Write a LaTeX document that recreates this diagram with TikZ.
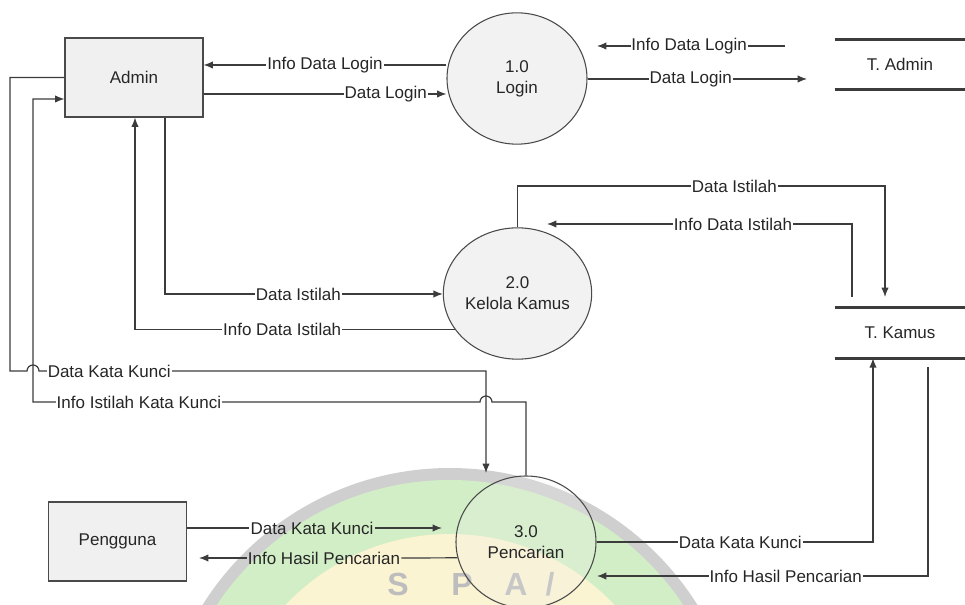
\documentclass[tikz,border=0pt]{standalone}
\usepackage{fontspec}
\setmainfont{Liberation Sans}
\usetikzlibrary{shapes.geometric,arrows.meta,calc}

\definecolor{linecol}{HTML}{3C3C3C}
\definecolor{txtcol}{HTML}{262626}
\definecolor{boxfill}{HTML}{F0F0F0}
\definecolor{procfill}{HTML}{F2F2F2}
\definecolor{edgecol}{HTML}{4A4A4A}
\definecolor{wmgray}{HTML}{CFCFCF}
\definecolor{wmgreen}{HTML}{D2EEC6}
\definecolor{wmyellow}{HTML}{FAF4D2}
\definecolor{wmletter}{HTML}{BDBDBD}

\newcommand\dfdfont{\fontsize{12.75pt}{15.75pt}\selectfont}

\begin{document}
\begin{tikzpicture}[x=0.75pt,y=-0.75pt,
  line/.style={draw=linecol,line width=0.9pt},
  flow/.style={line,-{Latex[length=7pt,width=5.5pt]}},
  lbl/.style={fill=white,inner sep=0.7pt,font=\dfdfont,text=txtcol},
  entity/.style={rectangle,draw=edgecol,line width=0.8pt,fill=boxfill,
    minimum width=103.5pt,minimum height=59.25pt,inner sep=0pt,
    font=\dfdfont,text=txtcol},
  process/.style={ellipse,draw=edgecol,line width=0.8pt,fill=procfill,
    minimum width=105pt,minimum height=98.5pt,inner sep=0pt,align=center,
    font=\dfdfont,text=txtcol},
  store/.style={rectangle,minimum width=97.5pt,inner sep=0pt,
    font=\dfdfont,text=txtcol},
  storeline/.style={draw=linecol,line width=2pt},
  wmtext/.style={text=wmletter,inner sep=0pt,font=\fontsize{24pt}{24pt}\selectfont\bfseries}]

\useasboundingbox (0,0) rectangle (965,605);

% faint logo behind the search process
\begin{scope}
  \clip (0,0) rectangle (965,605);
  \fill[wmgray] (450,760) circle[radius=292];
  \fill[wmgreen] (450,760) circle[radius=280];
  \fill[wmyellow] (450,760) circle[radius=226];
  \node[wmtext,anchor=base] (wms) at (398,596) {S};
  \node[wmtext,anchor=base] (wmp) at (462,596) {P};
  \node[wmtext,anchor=base] (wma) at (516,596) {A};
  \node[wmtext,anchor=base] (wmd) at (550,596) {/};
\end{scope}

% external entities
\node[entity] (admin) at (134,77.5) {Admin};
\node[entity] (pengguna) at (117.5,541.5) {Pengguna};

% processes
\node[process] (login) at (517,78.5) {1.0\\Login};
\node[process] (kelola) at (517.5,293.5) {2.0\\Kelola Kamus};
\node[process,minimum height=99pt,fill opacity=0.2,text opacity=1] (cari) at (526,542) {3.0\\Pencarian};

% data stores
\node[store,minimum height=36.75pt] (tadmin) at (900,64.5) {T. Admin};
\node[store,minimum height=37.5pt] (tkamus) at (900,333) {T. Kamus};
\draw[storeline] (tadmin.north west) -- (tadmin.north east)
                 (tadmin.south west) -- (tadmin.south east);
\draw[storeline] (tkamus.north west) -- (tkamus.north east)
                 (tkamus.south west) -- (tkamus.south east);

% free ends of flows that stop short of a shape
\coordinate (idlstart) at (785,46);
\coordinate (idltip) at (597,46);
\coordinate (dltip) at (807,79);
\coordinate (dittip) at (885,297);
\coordinate (idistart) at (852,297);
\coordinate (iditip) at (547,224);
\coordinate (dkktip) at (486,473);
\coordinate (dkkptip) at (442,528);
\coordinate (ihpltip) at (199,558);
\coordinate (ihpstart) at (928,367);
\coordinate (ihptip) at (597,576);

% Admin <-> Login
\draw[flow] (login.west |- 0,65) -- node[lbl]{Info Data Login} (admin.east |- 0,65);
\draw[flow] (admin.east |- 0,94) -- node[lbl,pos=0.75]{Data Login} (login.west |- 0,94);

% Login <-> T. Admin
\draw[flow] (idlstart) -- node[lbl,pos=0.51]{Info Data Login} (idltip);
\draw[flow] (login.east |- 0,79) -- node[lbl,pos=0.47]{Data Login} (dltip);

% Kelola Kamus <-> T. Kamus
\draw[flow] (kelola.north) -- (kelola.north |- 0,186)
  -- node[lbl,pos=0.59]{Data Istilah} (dittip |- 0,186) -- (dittip);
\draw[flow] (idistart) -- (idistart |- 0,224)
  -- node[lbl,pos=0.39]{Info Data Istilah} (iditip);

% Admin <-> Kelola Kamus
\draw[flow] (admin.south -| 165,0) -- (165,294)
  -- node[lbl,pos=0.48]{Data Istilah} (kelola.west |- 0,294);
\draw[flow] (kelola.210) -- node[lbl,pos=0.54]{Info Data Istilah} (kelola.210 -| 135,0)
  -- (admin.south -| 135,0);

% Admin <-> Pencarian
\draw[flow] (admin.west) -- (admin.west -| 10,0) -- (10,371) -- (27,371)
  arc[start angle=180,end angle=0,radius=4.5pt]
  -- node[lbl,pos=0.157]{Data Kata Kunci} (dkktip |- 0,371) -- (dkktip);
\draw[flow] (cari.north) -- (cari.north |- 0,402) -- (492,402)
  arc[start angle=0,end angle=180,radius=4.5pt]
  -- node[lbl,pos=0.763]{Info Istilah Kata Kunci} (33,402) -- (33,99)
  -- (admin.west |- 0,99);

% Pengguna <-> Pencarian
\node[lbl,fill=none] (lkk) at (312,528) {Data Kata Kunci};
\draw[line] (pengguna.east |- lkk) -- (lkk.west);
\draw[flow] (lkk.east) -- (dkkptip);
\node[lbl,fill=none] (lhp) at (324,558) {Info Hasil Pencarian};
\draw[line] (cari.193) -- (lhp.east);
\draw[flow] (lhp.west) -- (ihpltip);

% Pencarian <-> T. Kamus
\draw[flow] (cari.east) -- node[lbl,pos=0.52]{Data Kata Kunci} (cari.east -| 873,0)
  -- (tkamus.south -| 873,0);
\draw[flow] (ihpstart) -- (ihpstart |- ihptip)
  -- node[lbl,pos=0.43]{Info Hasil Pencarian} (ihptip);

\end{tikzpicture}
\end{document}
